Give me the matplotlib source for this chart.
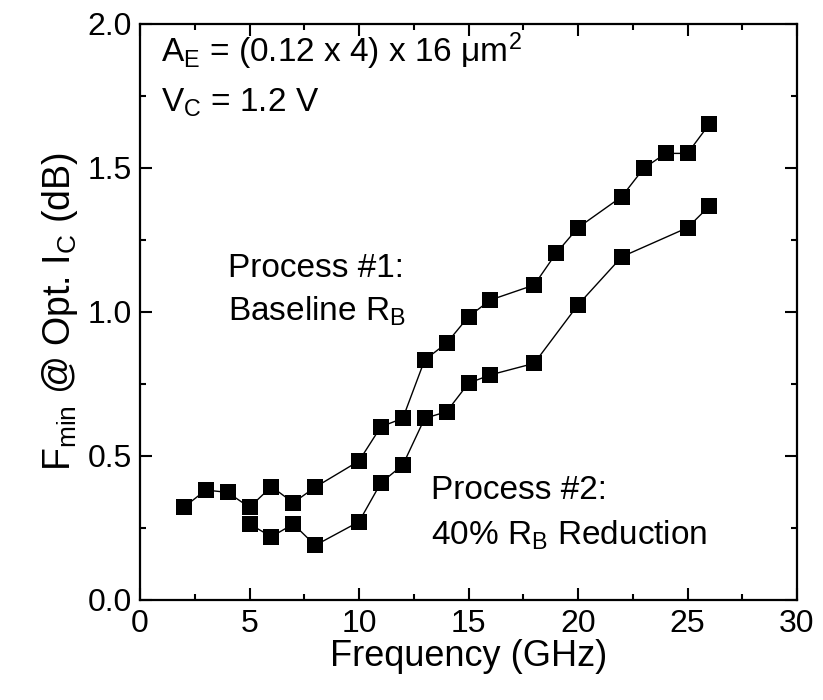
import matplotlib
matplotlib.use("Agg")
import matplotlib.pyplot as plt
from matplotlib.ticker import MultipleLocator, FormatStrFormatter

plt.rcParams['font.family'] = ['Liberation Sans', 'DejaVu Sans']
plt.rcParams['mathtext.fontset'] = 'custom'
plt.rcParams['mathtext.rm'] = 'Liberation Sans'
plt.rcParams['mathtext.it'] = 'Liberation Sans'

# Process #1: Baseline R_B
freq1 = [2, 3, 4, 5, 6, 7, 8, 10, 11, 12, 13, 14, 15, 16, 18, 19, 20, 22, 23, 24, 25, 26]
fmin1 = [0.32, 0.38, 0.372, 0.32, 0.392, 0.336, 0.39, 0.481, 0.60, 0.629, 0.832, 0.89,
         0.982, 1.04, 1.092, 1.202, 1.291, 1.399, 1.497, 1.549, 1.549, 1.651]
# Process #2: 40% R_B Reduction
freq2 = [5, 6, 7, 8, 10, 11, 12, 13, 14, 15, 16, 18, 20, 22, 25, 26]
fmin2 = [0.262, 0.218, 0.262, 0.188, 0.27, 0.405, 0.467, 0.629, 0.652, 0.751, 0.78,
         0.82, 1.023, 1.19, 1.291, 1.366]

fig = plt.figure(figsize=(8.23, 7.0), dpi=100)
ax = fig.add_axes([140/823, 1 - 599.5/700, (797-140)/823, (599.5-23.5)/700])

style = dict(color='black', lw=1.0, marker='s', markersize=11, markeredgewidth=0)
ax.plot(freq1, fmin1, **style)
ax.plot(freq2, fmin2, **style)

ax.set_xlim(0, 30)
ax.set_ylim(0, 2.0)
ax.xaxis.set_major_locator(MultipleLocator(5))
ax.xaxis.set_minor_locator(MultipleLocator(2.5))
ax.yaxis.set_major_locator(MultipleLocator(0.5))
ax.yaxis.set_minor_locator(MultipleLocator(0.25))
ax.yaxis.set_major_formatter(FormatStrFormatter('%.1f'))
ax.tick_params(which='both', direction='in', top=True, right=True, width=1.5, labelsize=23)
ax.tick_params(axis='x', pad=7)
ax.tick_params(axis='y', pad=6)
ax.tick_params(which='major', length=8.5)
ax.tick_params(which='minor', length=4.5)
for s in ax.spines.values():
    s.set_linewidth(1.6)

ax.set_xlabel('Frequency (GHz)', fontsize=26, labelpad=0)
ax.set_ylabel(r'F$_\mathregular{min}$ @ Opt. I$_\mathregular{C}$ (dB)', fontsize=27, labelpad=5)

fs = 24
ax.text(0.95, 1.865, r'A$_\mathregular{E}$ = (0.12 x 4) x 16 μm$^\mathregular{2}$', fontsize=fs, va='baseline')
ax.text(0.95, 1.695, r'V$_\mathregular{C}$ = 1.2 V', fontsize=fs, va='baseline')
ax.text(4.0, 1.12, 'Process #1:', fontsize=fs, va='baseline')
ax.text(4.0, 0.97, r'Baseline R$_\mathregular{B}$', fontsize=fs, va='baseline')
ax.text(13.3, 0.35, 'Process #2:', fontsize=fs, va='baseline')
ax.text(13.3, 0.19, r'40% R$_\mathregular{B}$ Reduction', fontsize=fs, va='baseline')

fig.savefig('out.png', dpi=100)
